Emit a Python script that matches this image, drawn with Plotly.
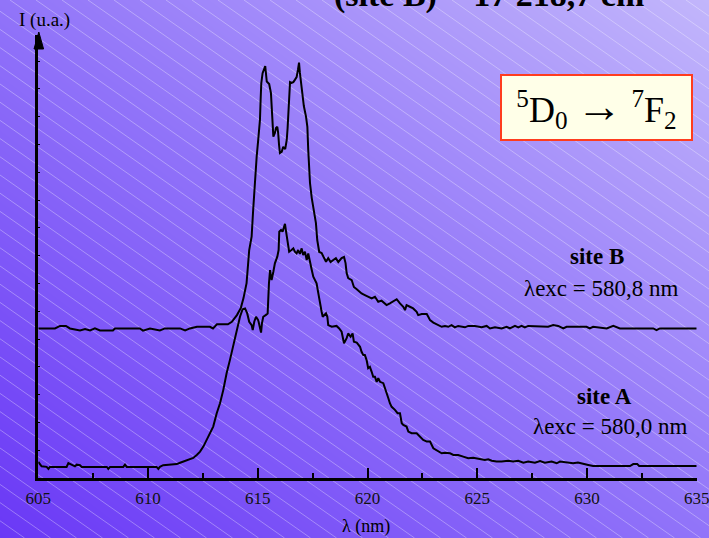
import plotly.graph_objects as go
import numpy as np

W, H = 709, 538

# ---------------- data (wavelength in nm, intensity in arbitrary units) ----------------
lam_B = [605.00, 605.76, 605.99, 606.26, 606.44, 606.90, 607.13, 607.36, 607.58, 607.81,
         608.40, 608.49, 609.63, 609.77, 610.09, 610.54, 610.77, 611.46, 611.69, 611.91,
         612.23, 612.82, 612.96, 613.14, 613.64, 613.82, 614.05, 614.23, 614.35, 614.49,
         614.61, 614.72, 614.79, 614.87, 614.95, 615.02, 615.10, 615.13, 615.16, 615.22,
         615.30, 615.34, 615.41, 615.48, 615.52, 615.60, 615.63, 615.66, 615.71, 615.78,
         615.83, 615.89, 615.93, 615.97, 616.01, 616.09, 616.16, 616.25, 616.32, 616.36,
         616.41, 616.44, 616.47, 616.54, 616.62, 616.69, 616.77, 616.83, 616.88, 616.92,
         617.05, 617.10, 617.20, 617.26, 617.30, 617.38, 617.46, 617.53, 617.61, 617.65,
         617.71, 617.80, 617.91, 618.02, 618.11, 618.21, 618.32, 618.44, 618.56, 618.67,
         618.82, 618.93, 619.00, 619.05, 619.12, 619.28, 619.38, 619.51, 619.73, 619.88,
         620.03, 620.19, 620.34, 620.49, 620.64, 620.87, 621.02, 621.17, 621.33, 621.48,
         621.63, 621.71, 621.78, 621.93, 622.08, 622.24, 622.31, 622.47, 622.70, 622.77,
         622.85, 623.00, 623.22, 623.38, 623.53, 623.68, 623.83, 623.98, 624.13, 624.44,
         624.59, 624.89, 625.20, 625.43, 625.58, 625.81, 626.11, 626.34, 626.49, 626.72,
         626.87, 627.02, 627.17, 627.32, 628.23, 628.46, 628.69, 628.92, 629.07, 629.98,
         630.13, 630.28, 630.90, 631.20, 631.50, 633.02, 633.17, 633.32, 635.00]
int_B = [5.38, 5.38, 5.47, 5.47, 5.38, 5.31, 5.36, 5.31, 5.38, 5.31,
         5.31, 5.38, 5.38, 5.30, 5.38, 5.31, 5.38, 5.38, 5.31, 5.38,
         5.44, 5.44, 5.38, 5.53, 5.53, 5.62, 5.86, 6.12, 6.47, 7.01,
         8.20, 8.68, 9.64, 10.84, 11.56, 12.16, 12.88, 13.60, 14.20, 14.56,
         14.80, 14.82, 14.26, 14.21, 14.17, 13.85, 13.24, 12.70, 12.28, 12.41,
         12.59, 12.63, 12.41, 11.98, 11.69, 11.73, 11.91, 11.83, 12.16, 12.59,
         13.17, 13.78, 14.24, 14.21, 14.24, 14.32, 14.42, 14.68, 14.94, 14.57,
         13.72, 13.38, 12.99, 12.63, 11.80, 10.61, 10.07, 9.75, 9.35, 9.17,
         8.56, 8.13, 8.09, 7.91, 7.78, 7.91, 7.77, 7.84, 7.91, 7.77,
         7.91, 7.95, 7.73, 7.37, 7.19, 7.12, 6.87, 6.79, 6.64, 6.58,
         6.52, 6.46, 6.52, 6.34, 6.38, 6.22, 6.28, 6.34, 6.43, 6.28,
         6.16, 6.04, 6.22, 6.16, 6.10, 5.98, 5.86, 5.90, 5.90, 5.80,
         5.68, 5.59, 5.50, 5.44, 5.47, 5.44, 5.50, 5.42, 5.47, 5.42,
         5.47, 5.47, 5.42, 5.47, 5.38, 5.42, 5.38, 5.44, 5.38, 5.47,
         5.42, 5.47, 5.42, 5.47, 5.44, 5.50, 5.47, 5.38, 5.44, 5.44,
         5.38, 5.44, 5.38, 5.47, 5.38, 5.38, 5.32, 5.38, 5.38]

lam_A = [605.00, 605.15, 605.38, 605.46, 605.53, 606.29, 606.37, 606.52, 606.67, 606.75,
         606.90, 606.98, 608.12, 608.19, 608.27, 608.87, 608.95, 609.03, 610.39, 610.47,
         610.54, 610.69, 611.00, 611.31, 611.46, 611.58, 611.76, 611.91, 612.06, 612.22,
         612.37, 612.52, 612.67, 612.82, 612.97, 613.13, 613.20, 613.28, 613.43, 613.51,
         613.58, 613.73, 613.88, 614.04, 614.19, 614.31, 614.42, 614.52, 614.61, 614.72,
         614.77, 614.84, 614.92, 615.02, 615.10, 615.15, 615.19, 615.25, 615.36, 615.45,
         615.51, 615.56, 615.60, 615.63, 615.71, 615.78, 615.89, 615.95, 615.98, 616.06,
         616.13, 616.19, 616.24, 616.28, 616.34, 616.39, 616.43, 616.54, 616.62, 616.69,
         616.77, 616.84, 616.92, 617.00, 617.07, 617.15, 617.23, 617.30, 617.38, 617.46,
         617.53, 617.61, 617.68, 617.76, 617.83, 617.91, 617.96, 618.03, 618.11, 618.17,
         618.21, 618.37, 618.59, 618.71, 618.82, 618.93, 619.05, 619.12, 619.23, 619.32,
         619.38, 619.51, 619.66, 619.73, 619.81, 619.88, 619.96, 620.03, 620.11, 620.19,
         620.26, 620.34, 620.42, 620.49, 620.57, 620.72, 620.87, 620.95, 621.02, 621.10,
         621.25, 621.37, 621.48, 621.56, 621.63, 621.78, 621.86, 622.01, 622.24, 622.39,
         622.54, 622.70, 622.85, 623.00, 623.15, 623.38, 623.53, 623.76, 623.91, 624.13,
         624.36, 624.59, 624.82, 625.12, 625.35, 625.50, 625.66, 625.88, 626.11, 626.41,
         626.64, 626.87, 627.10, 627.32, 627.63, 627.86, 628.08, 628.39, 628.62, 628.77,
         629.07, 629.37, 629.59, 629.83, 630.06, 630.28, 631.96, 632.11, 632.29, 632.38,
         635.00]
int_A = [0.58, 0.42, 0.40, 0.33, 0.40, 0.40, 0.54, 0.48, 0.42, 0.48,
         0.46, 0.40, 0.40, 0.33, 0.40, 0.40, 0.48, 0.40, 0.40, 0.33,
         0.40, 0.46, 0.48, 0.50, 0.55, 0.58, 0.62, 0.66, 0.72, 0.83,
         0.95, 1.13, 1.37, 1.67, 1.85, 2.33, 2.51, 2.69, 3.17, 3.53,
         3.77, 4.24, 4.78, 5.26, 5.80, 6.07, 6.10, 5.92, 5.62, 5.50,
         5.32, 5.62, 5.80, 5.68, 5.44, 5.23, 5.56, 5.80, 5.86, 5.92,
         7.00, 7.48, 7.24, 7.12, 7.42, 7.72, 7.96, 8.20, 8.86, 8.92,
         8.86, 9.04, 9.14, 8.92, 8.56, 8.44, 8.14, 8.20, 8.26, 8.14,
         8.08, 8.20, 8.06, 8.26, 8.02, 8.14, 7.84, 8.08, 7.72, 7.48,
         7.24, 7.12, 7.00, 6.64, 6.28, 5.98, 5.80, 5.86, 5.92, 5.80,
         5.50, 5.44, 5.47, 5.38, 5.26, 4.85, 5.03, 5.20, 5.08, 5.20,
         4.90, 4.87, 4.72, 4.54, 4.42, 4.42, 4.24, 3.95, 4.00, 3.82,
         3.64, 3.64, 3.46, 3.59, 3.46, 3.41, 3.10, 2.87, 2.69, 2.56,
         2.45, 2.33, 2.33, 1.97, 1.91, 1.85, 1.67, 1.61, 1.61, 1.49,
         1.37, 1.31, 1.31, 1.07, 1.01, 0.89, 0.91, 0.89, 0.83, 0.83,
         0.77, 0.71, 0.73, 0.67, 0.65, 0.67, 0.62, 0.59, 0.59, 0.62,
         0.59, 0.62, 0.55, 0.59, 0.55, 0.61, 0.55, 0.59, 0.53, 0.59,
         0.55, 0.53, 0.56, 0.50, 0.47, 0.43, 0.43, 0.50, 0.50, 0.43,
         0.43]

x_tick_vals = [605, 610, 615, 620, 625, 630, 635]
x_tick_text = ["605", "610", "615", "620", "625", "630", "635"]

SERIF = "Liberation Serif, Times New Roman, serif"


def px(x, y):
    """pixel position -> paper fraction"""
    return x / W, 1 - y / H


fig = go.Figure()

# ---------------- background: diagonal gradient + hatching ----------------
gx = np.linspace(-40, W + 40, 12)
gy = np.linspace(-40, H + 40, 10)
GX, GY = np.meshgrid(gx, gy)
GZ = 0.5 * (GX / W) + 0.5 * (1 - GY / H)
fig.add_trace(go.Heatmap(
    x=gx, y=gy, z=GZ, zmin=0, zmax=1, zsmooth="best", showscale=False,
    hoverinfo="skip",
    colorscale=[[0, "rgb(106,56,246)"], [0.5, "rgb(145,116,249)"], [1, "rgb(194,182,251)"]],
    xaxis="x", yaxis="y"))

slope = 0.70
step = 26
hx, hy = [], []
for c in np.arange(-900, W + step, step):
    hx += [c, c + H / slope, None]
    hy += [0, H, None]
fig.add_trace(go.Scatter(x=hx, y=hy, mode="lines", hoverinfo="skip",
                         line=dict(color="rgba(255,255,255,0.32)", width=1),
                         showlegend=False, xaxis="x", yaxis="y"))

# ---------------- spectra ----------------
fig.add_trace(go.Scatter(x=lam_B, y=int_B, mode="lines", name="site B",
                         line=dict(color="black", width=2), showlegend=False,
                         xaxis="x2", yaxis="y2"))
fig.add_trace(go.Scatter(x=lam_A, y=int_A, mode="lines", name="site A",
                         line=dict(color="black", width=2), showlegend=False,
                         xaxis="x2", yaxis="y2"))

x0, x1 = 38.3, 696.7
ybot, ytop = 478, 35

fig.update_layout(
    width=W, height=H,
    margin=dict(l=0, r=0, t=0, b=0, pad=0, autoexpand=False),
    paper_bgcolor="rgb(130,100,248)",
    plot_bgcolor="rgba(0,0,0,0)",
    showlegend=False,
    xaxis=dict(domain=[0, 1], range=[0, W], visible=False, fixedrange=True, automargin=False),
    yaxis=dict(domain=[0, 1], range=[H, 0], visible=False, fixedrange=True, automargin=False),
    xaxis2=dict(domain=[x0 / W, x1 / W], range=[605, 635], anchor="y2", automargin=False,
                showline=True, linecolor="black", linewidth=2.5,
                showgrid=False, zeroline=False,
                ticks="inside", ticklen=10, tickwidth=2, tickcolor="black",
                tickvals=x_tick_vals, ticktext=x_tick_text, ticklabelstandoff=3,
                ticklabeloverflow="allow",
                minor=dict(ticks="inside", ticklen=5, tickwidth=2, tickcolor="black",
                           tick0=605, dtick=2.5, showgrid=False),
                tickfont=dict(family=SERIF, size=17, color="#111111")),
    yaxis2=dict(domain=[1 - ybot / H, 1 - ytop / H], range=[0, (ybot - ytop) / 27.8],
                anchor="x2", automargin=False, showline=True, linecolor="black", linewidth=3,
                showgrid=False, zeroline=False, showticklabels=False,
                ticks="inside", ticklen=2, tickwidth=1, tickcolor="black",
                tick0=0, dtick=1),
)

# arrow head on the intensity axis
ax0, ay0 = px(34.0, 49)
ax1, ay1 = px(38.8, 32)
ax2, ay2 = px(43.6, 49)
fig.add_shape(type="path", xref="paper", yref="paper",
              path=f"M {ax0} {ay0} L {ax1} {ay1} L {ax2} {ay2} Z",
              fillcolor="black", line=dict(color="black", width=1))


def ann(text, x, y, size, **kw):
    xp, yp = px(x, y)
    d = dict(text=text, x=xp, y=yp, xref="paper", yref="paper", showarrow=False,
             xanchor="center", yanchor="middle",
             font=dict(family=SERIF, size=size, color="black"))
    d.update(kw)
    fig.add_annotation(**d)


ann("I (u.a.)", 44, 20, 19)
ann("λ (nm)", 366, 526, 18)
ann("<b>site B</b>", 597, 256, 23)
ann("λexc = 580,8 nm", 601, 288, 23)
ann("<b>site A</b>", 604, 396, 23)
ann("λexc = 580,0 nm", 610, 426, 23)
ann("<b>(site B) = 17 218,7 cm</b>", 489, -5, 34)
ann("<sup>5</sup>D<sub>0</sub> <span style='font-size:46px'>→</span> <sup>7</sup>F<sub>2</sub>",
    596.5, 107.5, 36,
    bgcolor="rgb(255,255,232)", bordercolor="rgb(255,60,30)", borderwidth=2,
    borderpad=2, width=185, height=59)

fig.write_html("out.html", config={"displayModeBar": False},
               post_script="document.body.style.margin='0px';")
